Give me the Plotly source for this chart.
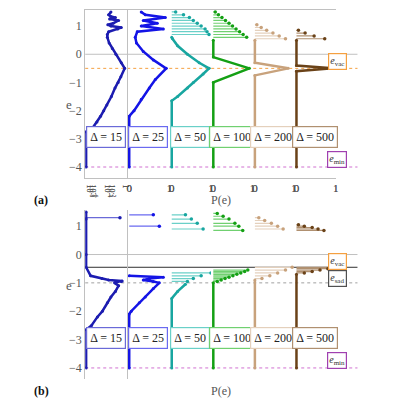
import plotly.graph_objects as go
from plotly.subplots import make_subplots

DELTAS = ["15", "25", "50", "100", "200", "500"]
COLORS = ["#1c1cb0", "#1414e6", "#18a6a0", "#14a014", "#c8a27c", "#6a4218"]
LIGHT = ["#6a6ad8", "#6a6af0", "#6ad0c8", "#70d070", "#e4d0bc", "#b09070"]

# ---- row (a): curves (P vs e) ; P for panel 1 is log10 value ----
A15_e = [-4.0, -2.75, -2.6, -2.4, -2.2, -2.0, -1.8, -1.5, -1.2, -1.0, -0.8, -0.5, -0.3, 0.0, 0.2, 0.4, 0.6, 0.7, 0.8, 0.9, 0.95, 1.0, 1.05, 1.1, 1.2, 1.25, 1.3, 1.35, 1.4, 1.5]
A15_p = [-9.0, -9.0, -7.5, -6.6, -5.8, -5.1, -4.4, -3.4, -2.6, -1.9, -1.3, -0.45, -1.2, -2.4, -3.2, -3.9, -4.3, -4.3, -4.0, -2.0, -1.2, -3.5, -4.2, -3.0, -1.8, -3.8, -2.5, -3.6, -4.0, -3.5]
A25_e = [-4.0, -2.2, -2.0, -1.6, -1.2, -0.9, -0.5, -0.2, 0.1, 0.4, 0.6, 0.8, 0.9, 1.0, 1.1, 1.2, 1.3, 1.4, 1.5]
A25_p = [0.0, 0.0, 0.12, 0.3, 0.5, 0.65, 0.92, 0.6, 0.35, 0.18, 0.15, 0.2, 0.85, 0.3, 0.7, 0.35, 0.9, 0.4, 0.3]
A50_e = [-4.0, -1.65, -1.5, -1.2, -1.0, -0.7, -0.5, -0.3, 0.0, 0.3, 0.55, 0.6]
A50_p = [0.0, 0.0, 0.15, 0.4, 0.55, 0.8, 0.95, 0.7, 0.4, 0.15, 0.02, 0.0]
A100_e = [-4.0, -1.0, -0.5, -0.1, 0.5]
A100_p = [0.0, 0.0, 0.92, 0.0, 0.0]
A200_e = [-4.0, -0.75, -0.5, -0.3, 0.5]
A200_p = [0.0, 0.0, 0.85, 0.0, 0.0]
A500_e = [-4.0, -0.6, -0.5, -0.4, 0.5]
A500_p = [0.0, 0.0, 0.92, 0.0, 0.0]

# ---- row (a): stems ----
SA50_e = [0.7, 0.8, 0.9, 1.0, 1.1, 1.2, 1.3, 1.4, 1.5]
SA50_p = [0.95, 0.9, 0.85, 0.75, 0.65, 0.55, 0.45, 0.3, 0.1]
SA100_e = [0.6, 0.7, 0.8, 0.9, 1.0, 1.1, 1.2, 1.3, 1.4, 1.5]
SA100_p = [0.85, 0.76, 0.67, 0.58, 0.49, 0.4, 0.31, 0.22, 0.13, 0.05]
SA200_e = [0.55, 0.65, 0.75, 0.85, 0.95, 1.05]
SA200_p = [0.78, 0.62, 0.46, 0.3, 0.16, 0.05]
SA500_e = [0.55, 0.65, 0.75, 0.85]
SA500_p = [0.72, 0.45, 0.22, 0.05]

# ---- row (b): curves ----
B15_e = [-4.0, -2.65, -2.5, -2.2, -2.0, -1.7, -1.5, -1.3, -1.1, -1.0, -0.95, -0.93, -0.9, -0.85, -0.75, -0.45, 0.0, 1.25, 1.5]
B15_p = [-9.0, -9.0, -7.8, -6.5, -5.4, -4.3, -3.5, -2.5, -1.8, -2.7, -1.2, -1.0, -4.0, -5.5, -8.0, -9.0, -9.0, -9.0, -9.0]
B25_e = [-4.0, -2.1, -2.0, -1.7, -1.5, -1.2, -1.0, -0.95, -0.9, -0.85, -0.8, -0.75]
B25_p = [0.0, 0.0, 0.05, 0.25, 0.4, 0.6, 0.75, 0.6, 0.35, 0.5, 0.85, 0.0]
B50_e = [-4.0, -1.55, -1.3, -1.05]
B50_p = [0.0, 0.0, 0.15, 0.35]
B100_e = [-4.0, -1.0]
B100_p = [0.0, 0.0]
B200_e = [-4.0, -0.9]
B200_p = [0.0, 0.0]
B500_e = [-4.0, -0.7]
B500_p = [0.0, 0.0]

# ---- row (b): stems ----
SB15_e = [1.3]
SB15_p = [-1.5]
SB25_e = [1.4, 1.0]
SB25_p = [0.6, 0.75]
SB50_e = [1.4, 1.25, 1.1, 0.9, -0.65, -0.75, -0.85, -0.95]
SB50_p = [0.35, 0.5, 0.65, 0.8, 1.0, 0.75, 0.55, 0.4]
SB100_e = [1.45, 1.35, 1.25, 1.1, 1.0, 0.85, -0.55, -0.6, -0.65, -0.7, -0.75, -0.8, -0.85, -0.9, -0.95]
SB100_p = [0.1, 0.25, 0.4, 0.55, 0.65, 0.75, 0.88, 0.8, 0.7, 0.6, 0.5, 0.4, 0.3, 0.2, 0.1]
SB200_e = [1.3, 1.2, 1.1, 1.0, 0.9, -0.45, -0.55, -0.65, -0.75, -0.85]
SB200_p = [0.1, 0.25, 0.42, 0.58, 0.72, 0.95, 0.78, 0.58, 0.38, 0.18]
SB500_e = [1.05, 1.0, 0.95, 0.9, 0.85, -0.45, -0.5, -0.55, -0.6, -0.65]
SB500_p = [0.05, 0.2, 0.4, 0.55, 0.7, 1.0, 0.8, 0.6, 0.4, 0.2]

ROWS = [
    [(A15_e, A15_p, [], []), (A25_e, A25_p, [], []), (A50_e, A50_p, SA50_e, SA50_p),
     (A100_e, A100_p, SA100_e, SA100_p), (A200_e, A200_p, SA200_e, SA200_p), (A500_e, A500_p, SA500_e, SA500_p)],
    [(B15_e, B15_p, SB15_e, SB15_p), (B25_e, B25_p, SB25_e, SB25_p), (B50_e, B50_p, SB50_e, SB50_p),
     (B100_e, B100_p, SB100_e, SB100_p), (B200_e, B200_p, SB200_e, SB200_p), (B500_e, B500_p, SB500_e, SB500_p)],
]

XEDGES = [77, 119, 162, 204, 246, 288, 330, 352]
YDOM = [[1 - 170 / 400, 1 - 2 / 400], [1 - 371 / 400, 1 - 202 / 400]]
YR = [-4.39, 1.57]
SERIF = "Liberation Serif"
GRID = "#c0c0c0"

def sfx(n):
    return "" if n == 1 else str(n)

fig = make_subplots(rows=2, cols=7, horizontal_spacing=0, vertical_spacing=0)

for r in range(2):
    for c in range(7):
        n = r * 7 + c + 1
        xa = "xaxis" + sfx(n)
        ya = "yaxis" + sfx(n)
        xdict = dict(domain=[XEDGES[c] / 400, XEDGES[c + 1] / 400], showgrid=False, zeroline=False,
                     showline=True, mirror=True, linecolor=GRID, linewidth=1,
                     tickfont=dict(family=SERIF, size=11, color="#555"), ticks="")
        if c == 0:
            xdict.update(type="log", range=[-9.2, 0.02], tickvals=[1e-8, 1e-6, 1e-4, 1e-2, 1],
                         ticktext=["10<sup>-8</sup>", "<br>10<sup>-6</sup>", "10<sup>-4</sup>", "<br>10<sup>-2</sup>", "1"],
                         tickfont=dict(family=SERIF, size=8, color="#555"))
        elif c < 6:
            xdict.update(range=[-0.06, 1.0], tickvals=[0, 1], ticktext=["0", "1"])
        else:
            xdict.update(range=[0, 1], showticklabels=False)
        ydict = dict(domain=YDOM[r], range=YR, showgrid=False, zeroline=False, showline=True, mirror=True,
                     linecolor=GRID, linewidth=1, showticklabels=(c == 0), tickvals=[-4, -3, -2, -1, 0, 1],
                     ticktext=["\u22124", "\u22123", "\u22122", "\u22121", "0", "1"],
                     tickfont=dict(family=SERIF, size=12, color="#555"), ticks="")
        fig.layout[xa] = xdict
        fig.layout[ya] = ydict

for r in range(2):
    for c in range(6):
        e, p, se, sp = ROWS[r][c]
        col = COLORS[c]
        if c == 0:
            xs = [10 ** v for v in p]
            sxs = [10 ** v for v in sp]
            base = 10 ** -9.2
        else:
            xs = p
            sxs = sp
            base = 0.0
        if se:
            lx, ly = [], []
            for ev, pv in zip(se, sxs):
                lx += [base, pv, None]
                ly += [ev, ev, None]
            fig.add_trace(go.Scatter(x=lx, y=ly, mode="lines", line=dict(color=LIGHT[c], width=1.2),
                                     showlegend=False, hoverinfo="skip"), row=r + 1, col=c + 1)
            fig.add_trace(go.Scatter(x=sxs, y=se, mode="markers", marker=dict(color=col, size=3.5),
                                     showlegend=False), row=r + 1, col=c + 1)
        fig.add_trace(go.Scatter(x=xs, y=e, mode="lines+markers", line=dict(color=col, width=2.5),
                                 marker=dict(color=col, size=3), showlegend=False), row=r + 1, col=c + 1)
        n = r * 7 + c + 1
        fig.add_annotation(x=0.5, y=-2.95, xref="x" + sfx(n) + " domain", yref="y" + sfx(n),
                           text="\u0394 = " + DELTAS[c], showarrow=False,
                           font=dict(family=SERIF, size=12, color="#222"),
                           bordercolor=LIGHT[c], borderwidth=1.2, bgcolor="white", borderpad=3)

x0, x1 = XEDGES[0] / 400, XEDGES[-1] / 400
def hline(yref, y, color, dash, width=1):
    fig.add_shape(type="line", xref="paper", yref=yref, x0=x0, x1=x1, y0=y, y1=y,
                  line=dict(color=color, dash=dash, width=width), layer="below")

hline("y", 0, GRID, "solid")
hline("y", -0.5, "#f5a040", "dot")
hline("y", -4, "#d070d0", "dot")
hline("y8", 0, GRID, "solid")
hline("y8", -0.45, "#303030", "solid")
hline("y8", -1, "#a0a0a0", "dot")
hline("y8", -4, "#d070d0", "dot")

def label(yref, y, text, color):
    fig.add_annotation(x=(XEDGES[6] + XEDGES[7]) / 800, y=y, xref="paper", yref=yref, text=text,
                       showarrow=False, font=dict(family=SERIF, size=10, color="#333"),
                       bordercolor=color, borderwidth=1.2, bgcolor="white", borderpad=1)

label("y", -0.25, "<i>e</i><sub>vac</sub>", "#f5a040")
label("y", -3.75, "<i>e</i><sub>min</sub>", "#a040b0")
label("y8", -0.25, "<i>e</i><sub>vac</sub>", "#f5a040")
label("y8", -0.86, "<i>e</i><sub>sad</sub>", "#505050")
label("y8", -3.75, "<i>e</i><sub>min</sub>", "#a040b0")

for yy, t in [(192, "(a)"), (392, "(b)")]:
    fig.add_annotation(x=23 / 400, y=1 - yy / 400, xref="paper", yref="paper", text="<b>" + t + "</b>",
                       showarrow=False, font=dict(family=SERIF, size=12, color="#111"))
    fig.add_annotation(x=214 / 400, y=1 - yy / 400, xref="paper", yref="paper", text="P(e)",
                       showarrow=False, font=dict(family=SERIF, size=12, color="#555"))
for yy in [87, 287]:
    fig.add_annotation(x=56 / 400, y=1 - yy / 400, xref="paper", yref="paper", text="e",
                       showarrow=False, font=dict(family=SERIF, size=13, color="#555"))

fig.update_layout(width=400, height=400, margin=dict(l=0, r=0, t=0, b=0),
                  paper_bgcolor="white", plot_bgcolor="white", showlegend=False)
fig.write_html("out.html")
